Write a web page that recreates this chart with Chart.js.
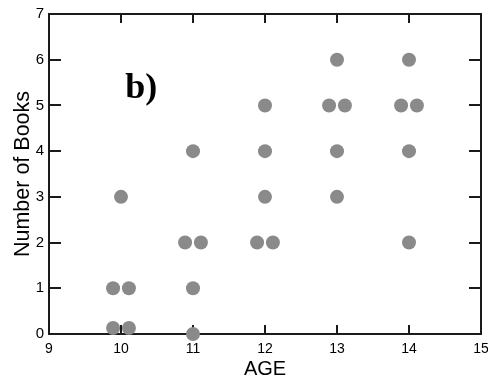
<!DOCTYPE html>
<html>
<head>
<meta charset="utf-8">
<script src="https://cdn.jsdelivr.net/npm/chart.js@4/dist/chart.umd.min.js"></script>
<style>
html,body{margin:0;padding:0;background:#fff;}
#wrap{width:488px;height:381px;position:relative;}
</style>
</head>
<body>
<div id="wrap"><canvas id="c" width="488" height="381"></canvas></div>
<script>
// Data
const ages  = [10, 9.89, 10.11, 9.89, 10.11,
               11, 10.89, 11.11, 11, 11,
               12, 12, 12, 11.89, 12.11,
               13, 12.89, 13.11, 13, 13,
               14, 13.89, 14.11, 14, 14];
const books = [3, 1, 1, 0.13, 0.13,
               4, 2, 2, 1, 0,
               5, 4, 3, 2, 2,
               6, 5, 5, 4, 3,
               6, 5, 5, 4, 2];
const xTicks = [9, 10, 11, 12, 13, 14, 15];
const yTicks = [0, 1, 2, 3, 4, 5, 6, 7];
const xTitle = 'AGE';
const yTitle = 'Number of Books';
const panelLabel = 'b)';

const points = ages.map((a, i) => ({x: a, y: books[i]}));
const FONT = '"Liberation Sans", Arial, sans-serif';

const framePlugin = {
  id: 'frame',
  beforeDatasetsDraw(chart) {
    const {ctx, chartArea: a, scales: {x, y}} = chart;
    ctx.save();
    ctx.fillStyle = '#1a1a1a';
    const L = Math.round(a.left), R = Math.round(a.right), T = Math.round(a.top), B = Math.round(a.bottom);
    for (let i = 1; i < yTicks.length - 1; i++) {
      const py = Math.round(y.getPixelForValue(yTicks[i]));
      ctx.fillRect(L, py - 1, 12, 2);
      ctx.fillRect(R - 12, py - 1, 12, 2);
    }
    for (let i = 1; i < xTicks.length - 1; i++) {
      const px = Math.round(x.getPixelForValue(xTicks[i]));
      ctx.fillRect(px - 1, T, 2, 9);
      ctx.fillRect(px - 1, B - 9, 2, 9);
    }
    ctx.fillRect(L - 1, T - 1, R - L + 2, 2);
    ctx.fillRect(L - 1, B - 1, R - L + 2, 2);
    ctx.fillRect(L - 1, T - 1, 2, B - T + 2);
    ctx.fillRect(R - 1, T - 1, 2, B - T + 2);
    ctx.restore();
  },
  afterDraw(chart) {
    const {ctx, scales: {x, y}} = chart;
    ctx.save();
    ctx.fillStyle = '#000';
    ctx.font = 'bold 36px "Liberation Serif", "Times New Roman", serif';
    ctx.textAlign = 'center';
    ctx.textBaseline = 'alphabetic';
    ctx.fillText(panelLabel, x.getPixelForValue(10.28), y.getPixelForValue(5.16));
    ctx.restore();
  }
};

new Chart(document.getElementById('c'), {
  type: 'scatter',
  data: {
    datasets: [{
      data: points,
      backgroundColor: '#8a8a8a',
      borderColor: '#8a8a8a',
      borderWidth: 0,
      pointRadius: 7,
      pointHoverRadius: 7,
      clip: false
    }]
  },
  options: {
    responsive: false,
    animation: false,
    events: [],
    layout: {padding: {left: 0, top: 14, right: 7, bottom: 0}},
    plugins: {legend: {display: false}, tooltip: {enabled: false}},
    scales: {
      x: {
        type: 'linear', min: 9, max: 15,
        afterBuildTicks: s => { s.ticks = xTicks.map(v => ({value: v})); },
        afterFit: s => { s.height = 47; s.paddingLeft = 0; s.paddingRight = 0; },
        grid: {display: false, drawTicks: false},
        border: {display: false},
        ticks: {color: '#000', font: {family: FONT, size: 14}, padding: 7, maxRotation: 0, autoSkip: false},
        title: {display: true, text: xTitle, color: '#000', font: {family: FONT, size: 20}, padding: {top: 0, bottom: 0}}
      },
      y: {
        type: 'linear', min: 0, max: 7,
        afterBuildTicks: s => { s.ticks = yTicks.map(v => ({value: v})); },
        afterFit: s => { s.width = 49; s.paddingTop = 0; s.paddingBottom = 0; },
        grid: {display: false, drawTicks: false},
        border: {display: false},
        ticks: {color: '#000', font: {family: FONT, size: 15}, padding: 5, autoSkip: false},
        title: {display: true, text: yTitle, color: '#000', font: {family: FONT, size: 21.5}, padding: {top: 10, bottom: 0}}
      }
    }
  },
  plugins: [framePlugin]
});
</script>
</body>
</html>
